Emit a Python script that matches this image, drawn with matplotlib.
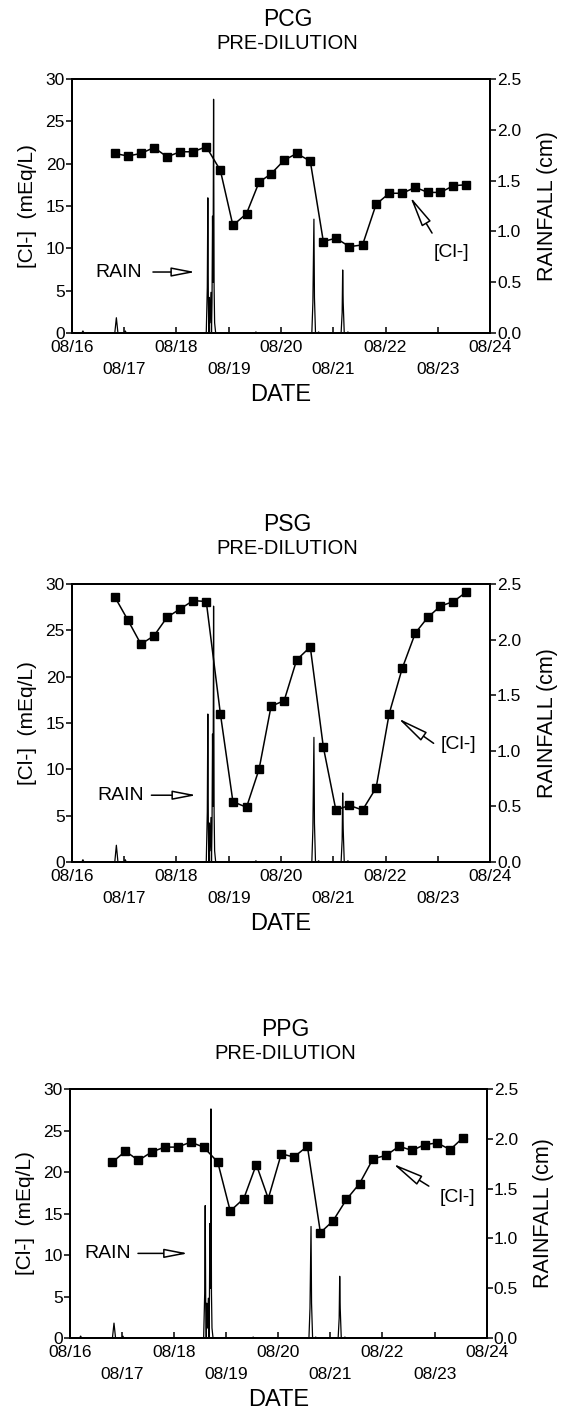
import matplotlib
matplotlib.use('Agg')
import matplotlib.pyplot as plt

plt.rcParams['font.family'] = ['Liberation Sans', 'DejaVu Sans']

# sampling times, days after 08/16 00:00 (roughly every 6 h)
sample_day = [0.82, 1.07, 1.32, 1.57, 1.82, 2.07, 2.32, 2.57, 2.84, 3.08, 3.34, 3.58,
              3.81, 4.06, 4.30, 4.56, 4.81, 5.05, 5.31, 5.56, 5.82, 6.07, 6.32, 6.57,
              6.81, 7.05, 7.30, 7.54]

# chloride, mEq/L
pcg_cl = [21.2, 20.9, 21.2, 21.9, 20.8, 21.4, 21.4, 22.0, 19.2, 12.7, 14.1, 17.8,
          18.8, 20.4, 21.2, 20.3, 10.8, 11.2, 10.2, 10.4, 15.2, 16.5, 16.5, 17.2,
          16.6, 16.6, 17.4, 17.5]
psg_cl = [28.6, 26.1, 23.5, 24.4, 26.4, 27.3, 28.2, 28.1, 16.0, 6.5, 5.9, 10.0,
          16.8, 17.4, 21.8, 23.2, 12.4, 5.6, 6.1, 5.6, 8.0, 16.0, 20.9, 24.7,
          26.4, 27.6, 28.1, 29.1]
ppg_cl = [21.2, 22.5, 21.4, 22.4, 23.0, 23.0, 23.6, 23.0, 21.2, 15.3, 16.8, 20.9,
          16.8, 22.2, 21.8, 23.1, 12.7, 14.1, 16.7, 18.6, 21.6, 22.0, 23.1, 22.6,
          23.3, 23.5, 22.7, 24.1]

# rainfall record (cm), same gauge for all three sites
rain_day = [0.00, 0.19, 0.21, 0.23, 0.82, 0.85, 0.88, 1.00, 1.02, 1.04,
            2.57, 2.59, 2.60, 2.61, 2.62, 2.63, 2.64, 2.66, 2.67, 2.68, 2.69, 2.70,
            2.71, 2.72, 2.73, 2.75, 3.50, 3.52, 3.54,
            4.59, 4.61, 4.63, 4.64, 4.66, 4.70, 4.72, 4.74,
            5.15, 5.17, 5.18, 5.19, 5.21, 5.26, 5.28, 5.30, 8.00]
rain_cm = [0.0, 0.0, 0.02, 0.0, 0.0, 0.15, 0.0, 0.0, 0.02, 0.0,
           0.0, 0.45, 1.33, 0.30, 0.0, 0.35, 0.10, 0.40, 0.0, 0.30, 1.15, 0.50,
           2.30, 0.45, 0.10, 0.0, 0.0, 0.01, 0.0,
           0.0, 0.30, 1.12, 0.35, 0.0, 0.0, 0.01, 0.0,
           0.0, 0.20, 0.62, 0.30, 0.0, 0.0, 0.01, 0.0, 0.0]

date_labels = ['08/16', '08/17', '08/18', '08/19', '08/20', '08/21', '08/22', '08/23', '08/24']

fig = plt.figure(figsize=(5.62, 14.2), dpi=100)


def draw_panel(rect, site, cl, rain_txt, rain_arrow, cl_txt, cl_arrow):
    ax = fig.add_axes(rect)
    ax2 = ax.twinx()
    ax.set_zorder(ax2.get_zorder() + 1)
    ax.patch.set_visible(False)

    ax2.plot(rain_day, rain_cm, color='k', lw=0.9)
    ax.plot(sample_day, cl, color='k', lw=1.1, marker='s', ms=5.8, mfc='k', mec='k')

    ax.set_xlim(0, 8)
    ax.set_ylim(0, 30)
    ax2.set_ylim(0, 2.5)
    ax.set_xticks(range(9))
    ax.set_xticklabels([d if i % 2 == 0 else '\n' + d for i, d in enumerate(date_labels)],
                       fontsize=12.5, linespacing=1.6)
    ax.set_yticks(range(0, 31, 5))
    ax.set_yticklabels([str(v) for v in range(0, 31, 5)], fontsize=12.5)
    ax2.set_yticks([0, 0.5, 1.0, 1.5, 2.0, 2.5])
    ax2.set_yticklabels(['0.0', '0.5', '1.0', '1.5', '2.0', '2.5'], fontsize=12.5)
    ax.tick_params(axis='x', direction='in', length=4, width=1.1, pad=5)
    ax.tick_params(axis='y', direction='out', length=4, width=1.1, pad=1)
    ax2.tick_params(axis='y', direction='out', length=4, width=1.1, pad=1)
    for a in (ax, ax2):
        for s in a.spines.values():
            s.set_linewidth(1.4)

    ax.set_xlabel('DATE', fontsize=17, labelpad=5)
    ax.set_ylabel('[Cl-]  (mEq/L)', fontsize=15, labelpad=6)
    ax2.set_ylabel('RAINFALL (cm)', fontsize=15.5, labelpad=11)

    ax.text(rain_txt[0], rain_txt[1], 'RAIN', fontsize=14, ha='center', va='center')
    ax.annotate('', xy=rain_arrow[1], xytext=rain_arrow[0],
                arrowprops=dict(arrowstyle='-|>,head_length=1.45,head_width=0.28',
                                fc='white', ec='k', lw=1.1, mutation_scale=10,
                                shrinkA=0, shrinkB=0))
    ax.text(cl_txt[0], cl_txt[1], '[Cl-]', fontsize=14, ha='center', va='center')
    ax.annotate('', xy=cl_arrow[1], xytext=cl_arrow[0],
                arrowprops=dict(arrowstyle='-|>,head_length=1.9,head_width=0.32',
                                fc='white', ec='k', lw=1.1, mutation_scale=10,
                                shrinkA=0, shrinkB=0))

    top = rect[1] + rect[3]
    xc = rect[0] + rect[2] / 2 + 0.012
    fig.text(xc, top + 59 / 1420, site, fontsize=16.5, ha='center', va='center')
    fig.text(xc, top + 35 / 1420, 'PRE-DILUTION', fontsize=14.5, ha='center', va='center')
    return ax


draw_panel([0.128, 0.7655, 0.744, 0.1789], 'PCG', pcg_cl,
           (0.9, 7.2), ((1.55, 7.2), (2.36, 7.2)),
           (7.26, 9.5), ((6.89, 11.8), (6.47, 16.1)))
draw_panel([0.128, 0.3930, 0.744, 0.1958], 'PSG', psg_cl,
           (0.93, 7.2), ((1.52, 7.2), (2.38, 7.2)),
           (7.4, 12.7), ((6.92, 12.8), (6.24, 15.5)))
draw_panel([0.124, 0.0577, 0.742, 0.1754], 'PPG', ppg_cl,
           (0.72, 10.2), ((1.31, 10.2), (2.27, 10.2)),
           (7.44, 16.9), ((6.89, 18.3), (6.2, 21.0)))

fig.savefig('out.png', dpi=100)
